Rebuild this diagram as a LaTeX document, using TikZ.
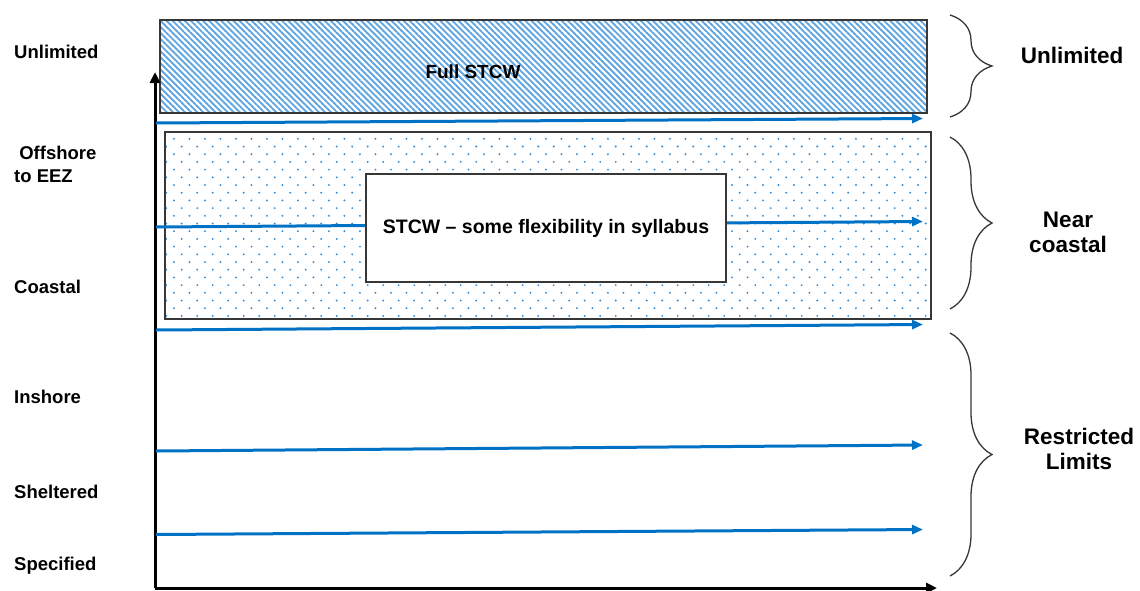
\documentclass[tikz,border=0pt]{standalone}
\usepackage{fontspec}
\setmainfont{Liberation Sans}
\usetikzlibrary{arrows.meta,patterns.meta,decorations.pathreplacing}
\definecolor{arrowblue}{RGB}{0,114,198}
\definecolor{hatchblue}{RGB}{95,165,225}
\definecolor{dotblue}{RGB}{45,140,218}
\definecolor{frame}{RGB}{55,55,55}
\begin{document}
\begin{tikzpicture}[x=1pt,y=-1pt,
  flow/.style={draw=arrowblue,line width=3pt,-{Triangle[length=11pt,width=9pt]}},
  axis/.style={draw=black,line width=3pt,-{Triangle[length=11pt,width=10pt]}},
  band/.style={draw=frame,line width=1.4pt},
  lbl/.style={font=\bfseries\fontsize{18.5}{23}\selectfont,anchor=west,align=left,inner sep=0pt},
  rlbl/.style={font=\bfseries\fontsize{22.5}{25}\selectfont,align=center,inner sep=0pt},
  curly/.style={draw=frame,line width=1.3pt,decorate,decoration={brace,amplitude=42pt,aspect=0.5}}]
\useasboundingbox (0,0) rectangle (1140,590);
% hatched band
\path[pattern={Lines[angle=-45,distance=4.3pt,line width=1.9pt]},pattern color=hatchblue] (160,20) rectangle (927,113);
\draw[band] (160,20) rectangle (927,113);
\node[font=\bfseries\fontsize{19}{22}\selectfont] (full) at (473,72) {Full STCW};
% dotted band
\begin{scope}
\clip (166,133) rectangle (930,318);
\foreach \j in {-16,...,9}{
  \foreach \i in {-5,...,49}{
    \fill[dotblue] ({212.7+15.5*\i+7.75*mod(\j,2)},{254.3+7.7*\j}) circle (1.05pt);
  }
}
\end{scope}
\draw[band] (165,132) rectangle (931,319);
% axes
\coordinate (o) at (155,588);
\coordinate (ytop) at (155,72);
\coordinate (xend) at (937,588);
\draw[axis] (o) -- (ytop);
\draw[axis] (o) -- (xend);
% blue arrows
\coordinate (a1s) at (156,123); \coordinate (a1e) at (923,118.5);
\coordinate (a2s) at (156,227); \coordinate (a2e) at (923,221.5);
\coordinate (a3s) at (156,330); \coordinate (a3e) at (923,324.5);
\coordinate (a4s) at (156,451); \coordinate (a4e) at (923,445);
\coordinate (a5s) at (156,534.5); \coordinate (a5e) at (923,529.5);
\draw[flow] (a1s) -- (a1e);
\draw[flow] (a2s) -- (a2e);
\draw[flow] (a3s) -- (a3e);
\draw[flow] (a4s) -- (a4e);
\draw[flow] (a5s) -- (a5e);
% central box
\node[draw=frame,line width=1.4pt,fill=white,minimum width=360pt,minimum height=108pt,inner sep=0pt,
  font=\bfseries\fontsize{19.5}{22}\selectfont] (stcw) at (546,228) {STCW -- some flexibility in syllabus};
% left labels
\node[lbl] (l1) at (14,52) {Unlimited};
\node[lbl] (l2) at (14,164) {\ Offshore\\to EEZ};
\node[lbl] (l3) at (14,287) {Coastal};
\node[lbl] (l4) at (14,397) {Inshore};
\node[lbl] (l5) at (14,492) {Sheltered};
\node[lbl] (l6) at (14,566) {Specified};
% braces
\coordinate (b1t) at (950,15); \coordinate (b1b) at (950,117);
\coordinate (b2t) at (950,137); \coordinate (b2b) at (950,309);
\coordinate (b3t) at (950,333); \coordinate (b3b) at (950,576);
\draw[curly] (b1t) -- (b1b);
\draw[curly] (b2t) -- (b2b);
\draw[curly] (b3t) -- (b3b);
% right labels
\node[rlbl] (r1) at (1072,55) {Unlimited};
\node[rlbl] (r2) at (1068,232) {Near\\coastal};
\node[rlbl] (r3) at (1079,449) {Restricted\\Limits};
\end{tikzpicture}
\end{document}
